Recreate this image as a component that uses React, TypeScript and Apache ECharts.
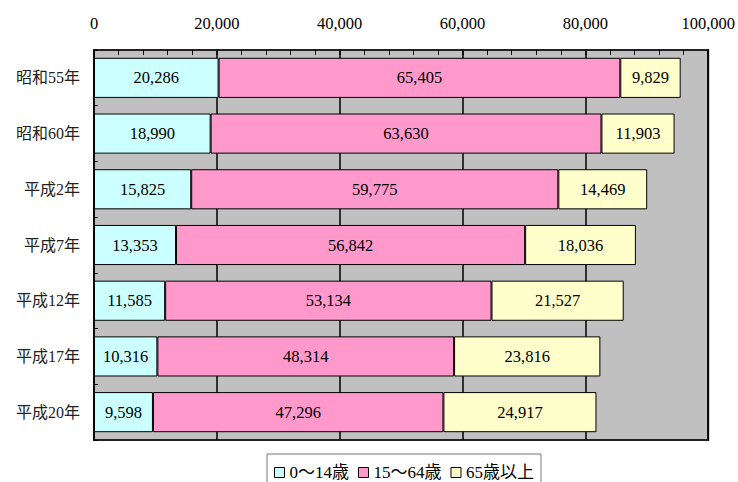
import React, { useEffect, useRef } from "react";
import * as echarts from "echarts";

const categories = ["昭和55年", "昭和60年", "平成2年", "平成7年", "平成12年", "平成17年", "平成20年"];
const seriesNames = ["0～14歳", "15～64歳", "65歳以上"];
const young = [20286, 18990, 15825, 13353, 11585, 10316, 9598];
const working = [65405, 63630, 59775, 56842, 53134, 48314, 47296];
const elderly = [9829, 11903, 14469, 18036, 21527, 23816, 24917];
const colors = ["#CCFFFF", "#FF99CC", "#FFFFCC"];

const FONT = "'Liberation Serif', 'Times New Roman', 'Noto Sans CJK JP', serif";

export default function App() {
  const ref = useRef<HTMLDivElement>(null);
  useEffect(() => {
    if (!ref.current) return;
    const chart = echarts.init(ref.current, null, { renderer: "svg" });
    const fmt = (v: number) => v.toLocaleString("en-US");
    const mk = (name: string, data: number[], color: string) => ({
      name,
      type: "bar",
      stack: "total",
      data,
      barCategoryGap: "28%",
      itemStyle: { color, borderColor: "#000", borderWidth: 1 },
      label: {
        show: true,
        position: "inside",
        color: "#000",
        fontFamily: FONT,
        fontSize: 16.5,
        formatter: (p: any) => fmt(p.value),
      },
    });
    chart.setOption({
      animation: false,
      textStyle: { fontFamily: FONT },
      grid: {
        left: 94,
        right: 25,
        top: 50,
        bottom: 42,
        show: true,
        backgroundColor: "#C0C0C0",
        borderColor: "#222",
        borderWidth: 2,
      },
      legend: {
        data: seriesNames,
        left: 267,
        top: 454,
        orient: "horizontal",
        icon: "rect",
        itemWidth: 10,
        itemHeight: 10,
        itemGap: 9,
        padding: [10, 7, 10, 7],
        borderColor: "#777",
        borderWidth: 1,
        textStyle: { fontFamily: FONT, fontSize: 17, color: "#000" },
        itemStyle: { borderColor: "#000", borderWidth: 1 },
      },
      xAxis: {
        type: "value",
        position: "top",
        min: 0,
        max: 100000,
        interval: 20000,
        axisLine: { show: false },
        axisTick: { show: true, inside: true, length: 5, lineStyle: { color: "#000", width: 1.5 } },
        minorTick: { show: true, splitNumber: 5, length: 5, lineStyle: { color: "#000", width: 1 } },
        splitLine: { show: true, lineStyle: { color: "#000", width: 1.5 } },
        axisLabel: {
          fontFamily: FONT,
          fontSize: 16.5,
          color: "#000",
          margin: 18,
          formatter: (v: number) => fmt(v),
        },
      },
      yAxis: {
        type: "category",
        data: categories,
        inverse: true,
        axisLine: { show: false },
        axisTick: { show: true, inside: true, length: 4, lineStyle: { color: "#000" } },
        axisLabel: {
          fontFamily: FONT,
          fontSize: 16,
          color: "#222",
          margin: 14,
        },
      },
      series: [
        mk(seriesNames[0], young, colors[0]),
        mk(seriesNames[1], working, colors[1]),
        mk(seriesNames[2], elderly, colors[2]),
      ],
    });
    return () => chart.dispose();
  }, []);
  return <div ref={ref} style={{ width: 738, height: 482, position: "absolute", left: 0, top: 0 }} />;
}
